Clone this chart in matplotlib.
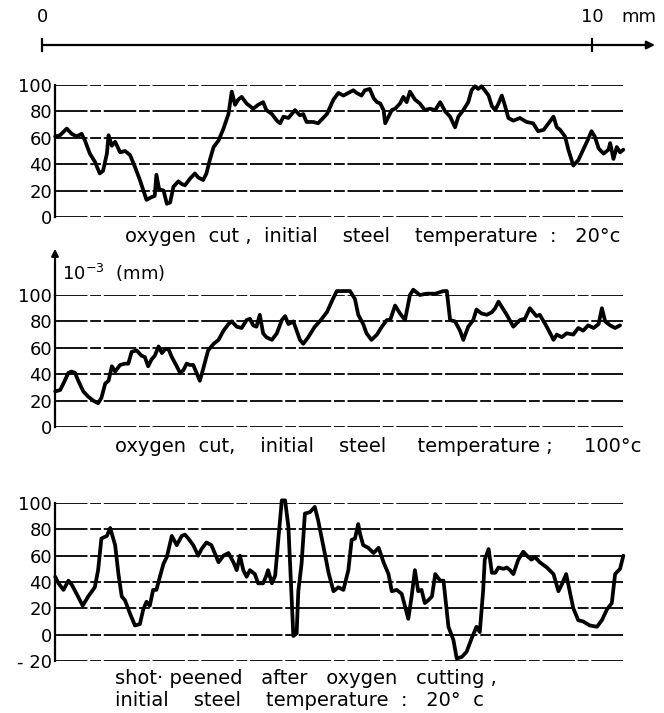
"""
Surface profile traces of oxygen cut steel edges (three conditions).
"""

import matplotlib
matplotlib.use('Agg')
import matplotlib.pyplot as plt

# ---- data: position along the edge (mm) and profile height (10^-3 mm) ----
cut20_x = [0.24, 0.33, 0.45, 0.54, 0.63, 0.72, 0.78, 0.87, 0.96, 1.05, 1.11, 1.18, 1.21,
           1.27, 1.33, 1.42, 1.51, 1.60, 1.69, 1.78, 1.90, 1.99, 2.05, 2.08, 2.13, 2.21,
           2.27, 2.33, 2.39, 2.48, 2.54, 2.60, 2.69, 2.78, 2.84, 2.93, 2.99, 3.05, 3.12,
           3.21, 3.30, 3.39, 3.45, 3.51, 3.57, 3.63, 3.72, 3.84, 3.93, 4.02, 4.08, 4.18,
           4.27, 4.33, 4.39, 4.48, 4.60, 4.69, 4.75, 4.81, 4.93, 5.02, 5.18, 5.30, 5.39,
           5.48, 5.57, 5.66, 5.72, 5.81, 5.87, 5.96, 6.03, 6.09, 6.15, 6.21, 6.24, 6.30,
           6.36, 6.42, 6.51, 6.57, 6.63, 6.69, 6.78, 6.87, 6.96, 7.05, 7.15, 7.24, 7.33,
           7.42, 7.51, 7.57, 7.66, 7.75, 7.81, 7.87, 7.93, 7.99, 8.05, 8.12, 8.18, 8.24,
           8.30, 8.36, 8.42, 8.48, 8.57, 8.69, 8.81, 8.93, 9.02, 9.12, 9.21, 9.30, 9.36,
           9.42, 9.51, 9.57, 9.66, 9.75, 9.84, 9.93, 9.99, 10.05, 10.12, 10.21, 10.30,
           10.33, 10.39, 10.45, 10.51, 10.57]
cut20_y = [61, 62, 67, 63, 61, 63, 58, 48, 42, 33, 35, 48, 62,
           54, 57, 49, 50, 47, 38, 28, 13, 15, 16, 32, 21, 20,
           10, 11, 23, 27, 25, 24, 29, 33, 30, 28, 33, 43, 53,
           58, 67, 78, 95, 85, 89, 91, 86, 82, 85, 87, 81, 78,
           73, 71, 76, 75, 81, 77, 78, 72, 72, 71, 78, 89, 94,
           92, 94, 96, 94, 92, 96, 97, 90, 87, 86, 81, 71, 76,
           81, 82, 86, 91, 87, 95, 89, 86, 81, 82, 81, 87, 80,
           76, 68, 76, 81, 87, 96, 99, 97, 99, 96, 92, 84, 81,
           86, 92, 84, 75, 73, 75, 72, 71, 65, 66, 71, 76, 68,
           66, 61, 51, 39, 43, 51, 59, 65, 61, 52, 48, 51,
           56, 44, 53, 49, 51]

cut100_x = [0.24, 0.33, 0.39, 0.48, 0.54, 0.60, 0.66, 0.75, 0.84, 0.93, 1.02, 1.08, 1.15,
            1.21, 1.27, 1.33, 1.42, 1.51, 1.57, 1.63, 1.72, 1.81, 1.87, 1.93, 1.99, 2.05,
            2.12, 2.18, 2.24, 2.30, 2.36, 2.45, 2.51, 2.57, 2.63, 2.69, 2.75, 2.81, 2.87,
            2.93, 3.02, 3.12, 3.21, 3.30, 3.39, 3.45, 3.54, 3.63, 3.72, 3.78, 3.84, 3.90,
            3.96, 4.02, 4.08, 4.18, 4.27, 4.36, 4.42, 4.48, 4.57, 4.69, 4.75, 4.84, 4.96,
            5.05, 5.18, 5.30, 5.36, 5.48, 5.60, 5.69, 5.75, 5.84, 5.90, 5.99, 6.09, 6.18,
            6.27, 6.33, 6.42, 6.51, 6.60, 6.69, 6.75, 6.87, 6.99, 7.15, 7.30, 7.36, 7.42,
            7.51, 7.60, 7.66, 7.75, 7.84, 7.90, 7.99, 8.09, 8.18, 8.24, 8.30, 8.36, 8.45,
            8.57, 8.69, 8.78, 8.87, 8.93, 8.99, 9.05, 9.15, 9.24, 9.30, 9.36, 9.45, 9.54,
            9.66, 9.75, 9.84, 9.93, 10.03, 10.12, 10.18, 10.24, 10.33, 10.42, 10.51]
cut100_y = [27, 28, 33, 41, 42, 41, 35, 27, 23, 20, 18, 22, 33,
            35, 46, 42, 47, 48, 48, 57, 58, 54, 53, 46, 51, 54,
            61, 56, 59, 59, 53, 46, 41, 43, 48, 47, 47, 41, 35,
            44, 58, 63, 66, 73, 78, 80, 76, 75, 81, 82, 77, 76,
            85, 71, 68, 66, 71, 81, 84, 78, 80, 66, 63, 68, 76,
            80, 87, 98, 103, 103, 103, 97, 85, 78, 71, 66, 70, 76,
            81, 81, 92, 86, 81, 100, 104, 100, 101, 101, 103, 103, 81,
            80, 73, 66, 76, 81, 89, 86, 85, 87, 90, 95, 91, 85,
            76, 81, 82, 90, 87, 84, 85, 78, 71, 66, 70, 68, 71,
            70, 75, 73, 77, 75, 78, 90, 80, 77, 75, 77]

peened_x = [0.24, 0.30, 0.39, 0.48, 0.54, 0.63, 0.74, 0.84, 0.96, 1.02, 1.08, 1.18, 1.24,
            1.33, 1.39, 1.45, 1.51, 1.60, 1.69, 1.78, 1.84, 1.90, 1.96, 2.02, 2.08, 2.15,
            2.21, 2.27, 2.36, 2.45, 2.54, 2.60, 2.66, 2.75, 2.84, 2.90, 2.99, 3.08, 3.21,
            3.30, 3.39, 3.48, 3.54, 3.60, 3.66, 3.72, 3.78, 3.87, 3.93, 4.02, 4.08, 4.11,
            4.18, 4.24, 4.30, 4.36, 4.42, 4.48, 4.54, 4.57, 4.63, 4.66, 4.72, 4.78, 4.87,
            4.96, 5.02, 5.15, 5.21, 5.30, 5.39, 5.48, 5.57, 5.63, 5.69, 5.75, 5.78, 5.84,
            5.93, 6.03, 6.12, 6.21, 6.30, 6.36, 6.45, 6.54, 6.66, 6.72, 6.78, 6.84, 6.90,
            6.96, 7.02, 7.09, 7.15, 7.24, 7.30, 7.39, 7.48, 7.54, 7.63, 7.72, 7.81, 7.90,
            7.96, 8.02, 8.05, 8.12, 8.18, 8.24, 8.30, 8.39, 8.45, 8.51, 8.57, 8.66, 8.75,
            8.84, 8.90, 8.96, 9.05, 9.18, 9.30, 9.39, 9.45, 9.53, 9.57, 9.66, 9.75, 9.84,
            9.96, 10.09, 10.18, 10.27, 10.36, 10.42, 10.51, 10.57]
peened_y = [44, 39, 34, 41, 38, 31, 22, 29, 36, 49, 73, 75, 81,
            68, 46, 29, 26, 16, 7, 8, 19, 25, 22, 34, 34, 45,
            54, 59, 75, 68, 75, 76, 73, 68, 60, 65, 70, 68, 55,
            60, 62, 55, 49, 60, 49, 44, 49, 46, 39, 39, 45, 49,
            39, 45, 74, 102, 102, 82, 26, -1, 1, 33, 54, 92, 93,
            97, 87, 60, 47, 33, 36, 34, 49, 72, 73, 84, 77, 68,
            66, 62, 66, 55, 46, 33, 34, 31, 12, 29, 49, 33, 34,
            24, 26, 29, 46, 41, 41, 6, -4, -18, -17, -13, -3, 6,
            2, 33, 57, 65, 47, 47, 51, 50, 51, 49, 46, 57, 63,
            59, 57, 59, 55, 51, 46, 33, 38, 46, 38, 20, 11, 10,
            7, 6, 11, 19, 24, 46, 50, 60]

ticks_0_100 = [0, 20, 40, 60, 80, 100]
ticks_peened = [-20, 0, 20, 40, 60, 80, 100]
tick_labels_peened = ['- 20', '0', '20', '40', '60', '80', '100']

caption_cut20 = 'oxygen  cut ,  initial    steel    temperature  :   20°c'
caption_cut100 = 'oxygen  cut,    initial    steel     temperature ;     100°c'
caption_peened_1 = 'shot· peened   after   oxygen   cutting ,'
caption_peened_2 = 'initial    steel    temperature  :   20°  c'

# ---- layout (figure is 664 x 713 px) ----
W, H = 664, 713
X0_PX, MM_PX = 42, 55           # 0 mm at px 42, 1 mm = 55 px
AX_L, AX_R = 55, 623            # plot area left/right in px
XLIM = ((AX_L - X0_PX) / MM_PX, (AX_R - X0_PX) / MM_PX)
GRID_STYLE = (0, (18, 1.5, 6, 1.5))
CAPTION_SIZE = 14

plt.rcParams.update({
    'font.family': 'DejaVu Sans',
    'font.size': 13,
    'text.color': 'black',
})

fig = plt.figure(figsize=(W / 100, H / 100), dpi=100)
fig.patch.set_facecolor('white')


def caption(x_px, y_px, text):
    fig.text(x_px / W, 1 - y_px / H, text, fontsize=CAPTION_SIZE,
             ha='left', va='center')


def add_panel(top_px, bottom_px, ylim, ticks, labels, x, y):
    ax = fig.add_axes([AX_L / W, 1 - bottom_px / H,
                       (AX_R - AX_L) / W, (bottom_px - top_px) / H])
    ax.set_xlim(XLIM)
    ax.set_ylim(ylim)
    ax.set_facecolor('none')
    for side in ('top', 'right', 'bottom'):
        ax.spines[side].set_visible(False)
    ax.spines['left'].set_linewidth(1.6)
    ax.set_xticks([])
    ax.set_yticks(ticks)
    ax.set_yticklabels(labels, fontsize=13)
    ax.tick_params(axis='y', length=0, pad=2)
    for t in ticks:
        ax.axhline(t, color='black', lw=1.3, ls=GRID_STYLE, zorder=1)
    ax.plot(x, y, color='black', lw=2.7, solid_joinstyle='round',
            solid_capstyle='round', clip_on=False, zorder=3)
    return ax


add_panel(85, 217, (0, 100), ticks_0_100, [str(t) for t in ticks_0_100],
          cut20_x, cut20_y)
caption(125, 236, caption_cut20)

ax2 = add_panel(295, 427, (0, 100), ticks_0_100, [str(t) for t in ticks_0_100],
                cut100_x, cut100_y)
caption(115, 447, caption_cut100)

add_panel(503, 661, (-20, 100), ticks_peened, tick_labels_peened,
          peened_x, peened_y)
caption(115, 679, caption_peened_1)
caption(115, 701, caption_peened_2)

# unit arrow on the middle panel's y axis
ax2.annotate('', xy=(XLIM[0], 135), xytext=(XLIM[0], 99),
             arrowprops=dict(arrowstyle='-|>', color='black', lw=1.6,
                             mutation_scale=10, shrinkA=0, shrinkB=0),
             annotation_clip=False)
ax2.text(XLIM[0] + 0.12, 117, r'$\mathregular{10^{-3}}$  (mm)', fontsize=13,
         ha='left', va='center', clip_on=False)

# ---- length scale at the top ----
top = fig.add_axes([0, 1 - 60 / H, 1, 60 / H])
top.set_xlim(-X0_PX / MM_PX, (W - X0_PX) / MM_PX)
top.set_ylim(0, 1)
top.axis('off')
top.annotate('', xy=((655 - X0_PX) / MM_PX, 0.25), xytext=(0, 0.25),
             arrowprops=dict(arrowstyle='-|>', color='black', lw=1.6,
                             mutation_scale=12, shrinkA=0, shrinkB=0))
for mm in (0, 10):
    top.plot([mm, mm], [0.15, 0.35], color='black', lw=1.6)
top.text(0, 0.72, '0', fontsize=13, ha='center', va='center')
top.text(10, 0.72, '10', fontsize=13, ha='center', va='center')
top.text(10.85, 0.72, 'mm', fontsize=13, ha='center', va='center')

fig.savefig('out.png', dpi=100, facecolor='white')
